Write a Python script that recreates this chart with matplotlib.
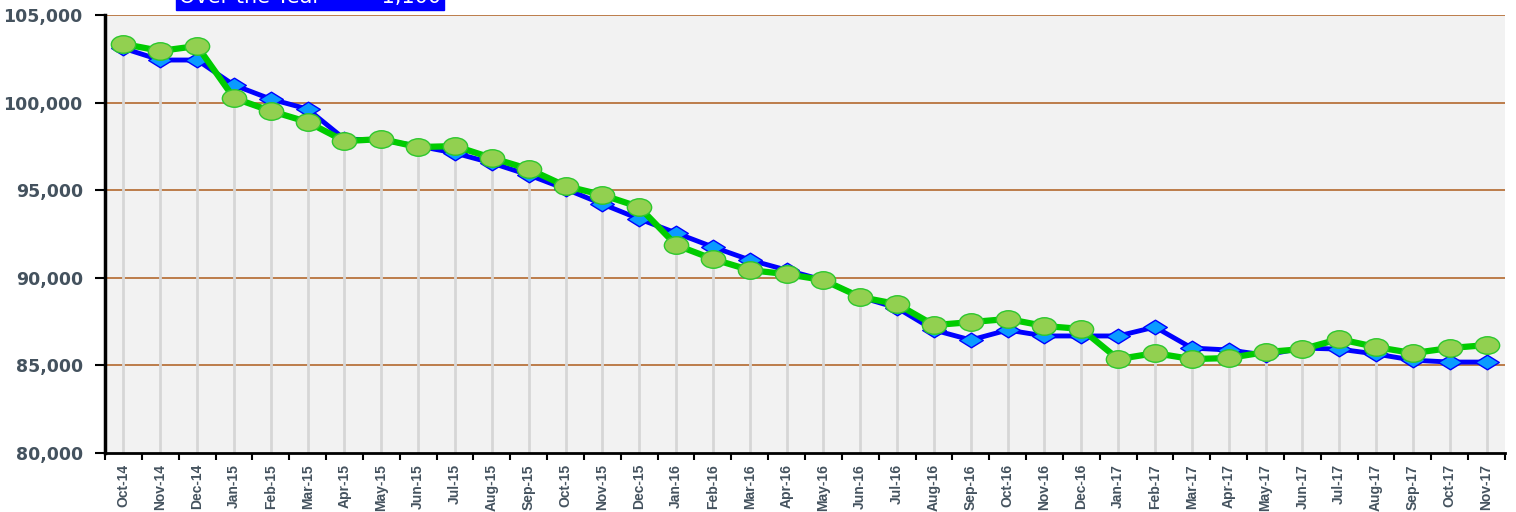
import matplotlib.pyplot as plt
import numpy as np
from matplotlib.path import Path
from matplotlib.transforms import Affine2D
from matplotlib.patches import Rectangle
from matplotlib.ticker import FuncFormatter, FixedLocator

months = ["Oct-14", "Nov-14", "Dec-14", "Jan-15", "Feb-15", "Mar-15", "Apr-15", "May-15",
          "Jun-15", "Jul-15", "Aug-15", "Sep-15", "Oct-15", "Nov-15", "Dec-15", "Jan-16",
          "Feb-16", "Mar-16", "Apr-16", "May-16", "Jun-16", "Jul-16", "Aug-16", "Sep-16",
          "Oct-16", "Nov-16", "Dec-16", "Jan-17", "Feb-17", "Mar-17", "Apr-17", "May-17",
          "Jun-17", "Jul-17", "Aug-17", "Sep-17", "Oct-17", "Nov-17"]

blue_series = [103100, 102430, 102430, 101000, 100200, 99630, 97920, 97860,
               97520, 97120, 96550, 95870, 95070, 94210, 93360, 92560,
               91760, 91020, 90440, 89870, 88900, 88280, 87020, 86450,
               87020, 86680, 86680, 86680, 87190, 85990, 85880, 85590,
               85990, 85930, 85650, 85300, 85190, 85190]

green_series = [103350, 102950, 103230, 100260, 99520, 98890, 97800, 97920,
                97460, 97520, 96840, 96210, 95240, 94730, 94040, 91870,
                91070, 90440, 90210, 89870, 88900, 88500, 87300, 87470,
                87650, 87250, 87080, 85360, 85700, 85360, 85420, 85760,
                85930, 86500, 86050, 85700, 85990, 86160]

y_ticks = [80000, 85000, 90000, 95000, 100000, 105000]
banner_text = "Over the Year        -1,100"

text_color = "#44525E"

fig = plt.figure(figsize=(15.16, 5.12), dpi=100)
ax = fig.add_axes([105 / 1516, 1 - 453 / 512, 1400 / 1516, 438 / 512])
ax.set_facecolor("#F2F2F2")

x = np.arange(len(months))
blue = np.array(blue_series)
green = np.array(green_series)

# grey drop lines from the upper marker down to the axis
ax.vlines(x, y_ticks[0], np.maximum(blue, green), color="#D6D6D6", lw=2, zorder=1)

for v in y_ticks[1:]:
    ax.axhline(v, color="#B8733D", lw=1.3, zorder=0.5)

# flattened marker shapes like the original
diamond = Path([(-1, 0), (0, 0.62), (1, 0), (0, -0.62), (-1, 0)],
               [Path.MOVETO, Path.LINETO, Path.LINETO, Path.LINETO, Path.CLOSEPOLY])
oval = Path.unit_circle().transformed(Affine2D().scale(1, 0.72))

ax.plot(x, blue, color="#0000FF", lw=3.5, marker=diamond, ms=17,
        mfc="#0A9BFF", mec="#0000FF", mew=1, zorder=3)
ax.plot(x, green, color="#00CC00", lw=4.5, marker=oval, ms=17.5,
        mfc="#92D050", mec="#2DC82D", mew=1, zorder=4)

ax.set_xlim(-0.5, len(months) - 0.5)
ax.set_ylim(y_ticks[0], y_ticks[-1])

ax.set_yticks(y_ticks)
ax.yaxis.set_major_formatter(FuncFormatter(lambda v, p: f"{int(v):,}"))
ax.tick_params(axis="y", length=7, width=1.5, direction="out", pad=9,
               labelsize=12.5, labelcolor=text_color)
for lab in ax.get_yticklabels():
    lab.set_fontweight("bold")

ax.set_xticks(x)
ax.set_xticklabels(months, rotation=90, fontsize=10, fontweight="bold",
                   color=text_color, family="Liberation Sans")
ax.xaxis.set_minor_locator(FixedLocator(np.arange(len(months) + 1) - 0.5))
ax.tick_params(axis="x", which="major", length=0, pad=8)
ax.tick_params(axis="x", which="minor", length=5, width=1.5, direction="out")

for side in ["top", "right"]:
    ax.spines[side].set_visible(False)
ax.spines["left"].set_linewidth(2.5)
ax.spines["bottom"].set_linewidth(2)

# banner at the top, cut by the figure edge as in the original
fig.patches.append(Rectangle((176 / 1516, 502 / 512), 268 / 1516, 30 / 512,
                             transform=fig.transFigure, color="#0000FF", zorder=5))
fig.text(310 / 1516, 515 / 512, banner_text, color="white", fontsize=15,
         ha="center", va="center", zorder=6)

fig.savefig("out.png", dpi=100)
